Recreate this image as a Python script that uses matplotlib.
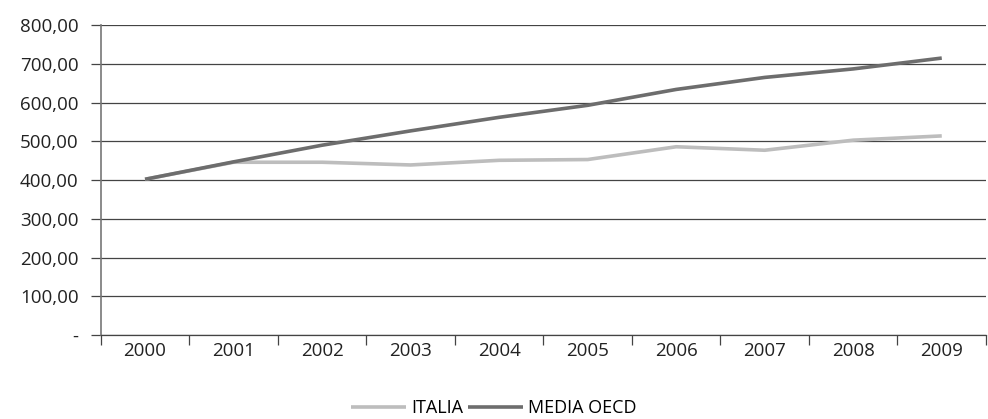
import matplotlib
matplotlib.use("Agg")
import matplotlib.pyplot as plt
from matplotlib.ticker import FixedLocator

anni = ["2000", "2001", "2002", "2003", "2004", "2005", "2006", "2007", "2008", "2009"]
italia = [402, 446, 446, 439, 451, 453, 486, 477, 503, 514]
media_oecd = [402, 447, 490, 527, 562, 593, 634, 665, 687, 715]
y_ticks = [0, 100, 200, 300, 400, 500, 600, 700, 800]
y_labels = ["-", "100,00", "200,00", "300,00", "400,00", "500,00", "600,00", "700,00", "800,00"]

plt.rcParams["font.family"] = ["Open Sans", "DejaVu Sans"]

fig = plt.figure(figsize=(9.88, 4.19), dpi=100)
ax = fig.add_axes([0.102, 0.2005, 0.896, 0.7395])

x = list(range(len(anni)))
ax.plot(x, italia, color="#bdbdbd", lw=2.6, label="ITALIA", solid_capstyle="butt")
ax.plot(x, media_oecd, color="#6d6d6d", lw=2.6, label="MEDIA OECD", solid_capstyle="butt")

ax.set_xlim(-0.5, len(anni) - 0.5)
ax.set_ylim(0, 800)

# griglia orizzontale
ax.set_yticks(y_ticks)
ax.set_yticklabels(y_labels, fontsize=13.5, color="#222222")
ax.yaxis.grid(True, color="#444444", lw=0.9)
ax.set_axisbelow(True)
ax.tick_params(axis="y", length=7, width=0.9, color="#444444", pad=9)

# etichette categorie e tacche tra le categorie
ax.set_xticks(x)
ax.set_xticklabels(anni, fontsize=13.5, color="#222222")
ax.tick_params(axis="x", which="major", length=0, pad=5)
ax.xaxis.set_minor_locator(FixedLocator([i + 0.5 for i in range(-1, len(anni))]))
ax.tick_params(axis="x", which="minor", length=7, width=0.9, color="#444444")

for s in ["top", "right"]:
    ax.spines[s].set_visible(False)
ax.spines["left"].set_color("#777777")
ax.spines["left"].set_linewidth(1.2)
ax.spines["bottom"].set_color("#444444")
ax.spines["bottom"].set_linewidth(0.9)

fig.legend(loc="lower center", bbox_to_anchor=(0.5, -0.035), ncol=2, frameon=False,
           fontsize=13, handlelength=3.0, columnspacing=0.3, handletextpad=0.3)

fig.savefig("out.png", dpi=100)
